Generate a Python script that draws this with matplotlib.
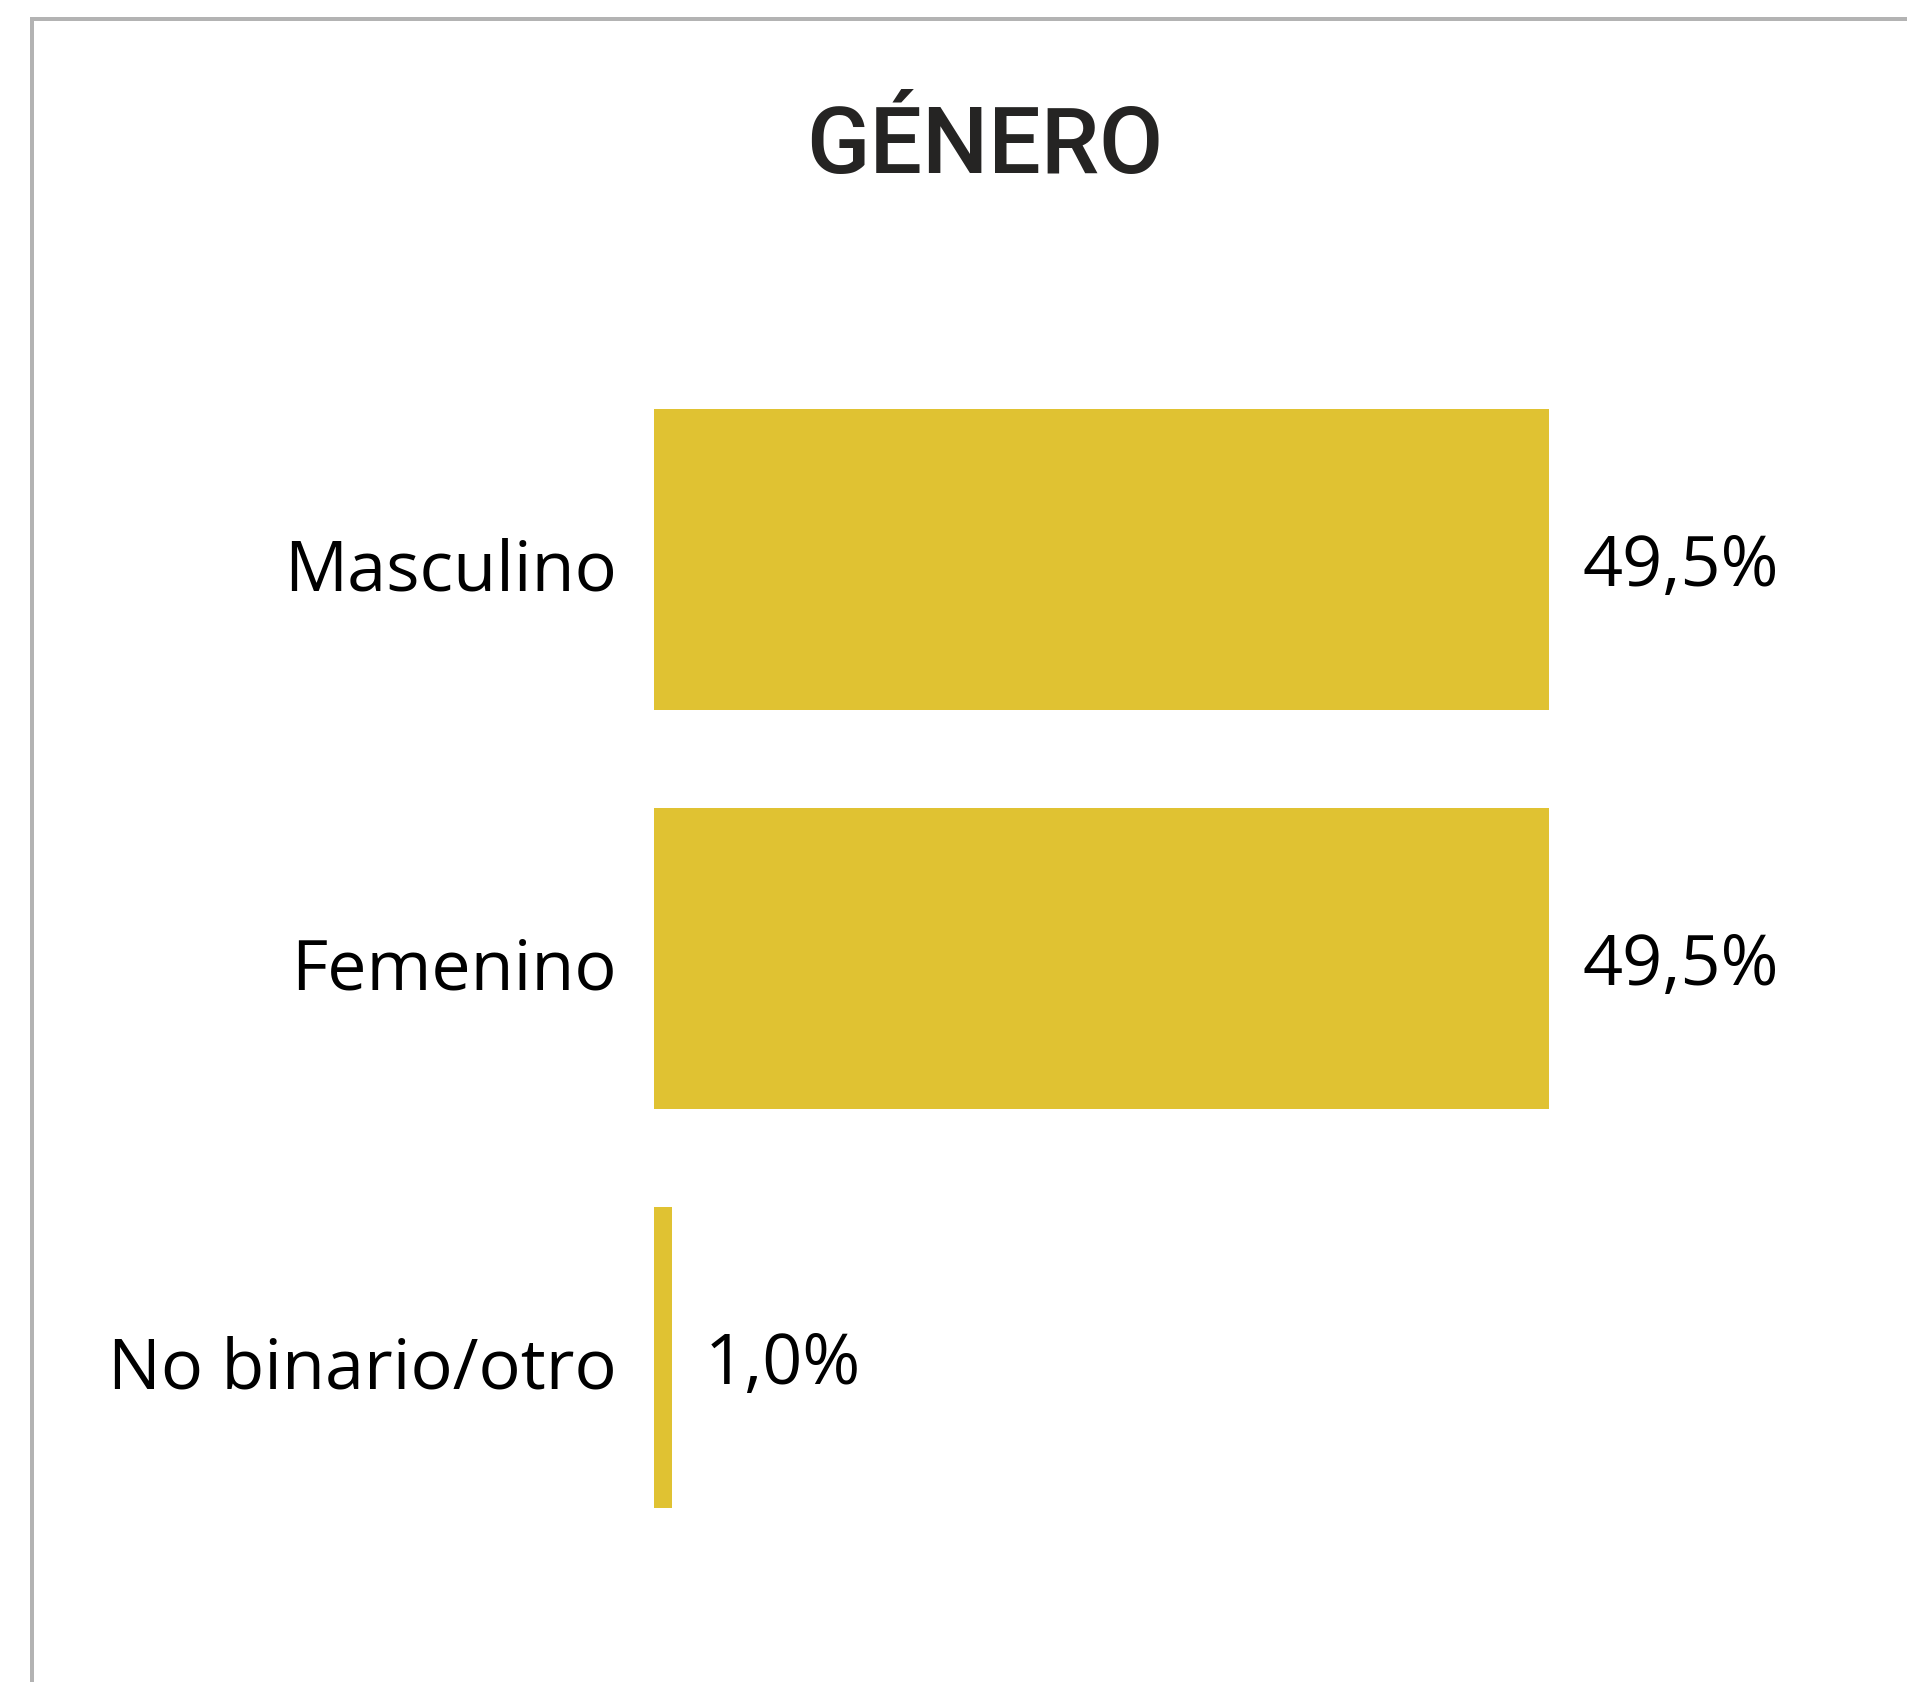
import matplotlib.pyplot as plt
from matplotlib.patches import Rectangle

# Data
categories = ['Masculino', 'Femenino', 'No binario/otro']
values = [49.5, 49.5, 1.0]
value_labels = ['49,5%', '49,5%', '1,0%']
title = 'GÉNERO'

W, H = 1907, 1682
bar_color = '#E0C232'
border_color = '#B3B3B3'

fig = plt.figure(figsize=(W / 100, H / 100), dpi=100)

# Panel border (top and left only)
fig.patches.append(Rectangle((30 / W, 1 - 21 / H), 1 - 30 / W, 4 / H,
                             transform=fig.transFigure, color=border_color, lw=0))
fig.patches.append(Rectangle((30 / W, 0), 4 / W, 1 - 17 / H,
                             transform=fig.transFigure, color=border_color, lw=0))

# Title
fig.text(985 / W, 1 - 173 / H, title, ha='center', va='baseline',
         fontsize=67, fontfamily='Roboto', fontweight='medium', color='#252423')

# Axes: 1 unit = 18.08 px, rows every 399 px
ax = fig.add_axes([654 / W, 1 - 1557 / H, 1085 / W, 1197 / H])
y = list(range(len(categories)))
ax.barh(y, values, height=0.755, color=bar_color)
ax.set_xlim(0, 60)
ax.set_ylim(2.5, -0.5)
ax.axis('off')

for i, (cat, v, lab) in enumerate(zip(categories, values, value_labels)):
    ax.annotate(cat, (0, i), xytext=(-37, -31), textcoords='offset pixels',
                ha='right', va='baseline', fontsize=50.5, fontfamily='Open Sans',
                color='#000000')
    ax.annotate(lab, (v, i), xytext=(33, -26), textcoords='offset pixels',
                ha='left', va='baseline', fontsize=50.5, fontfamily='Open Sans',
                color='#000000')

fig.savefig('out.png', dpi=100)
